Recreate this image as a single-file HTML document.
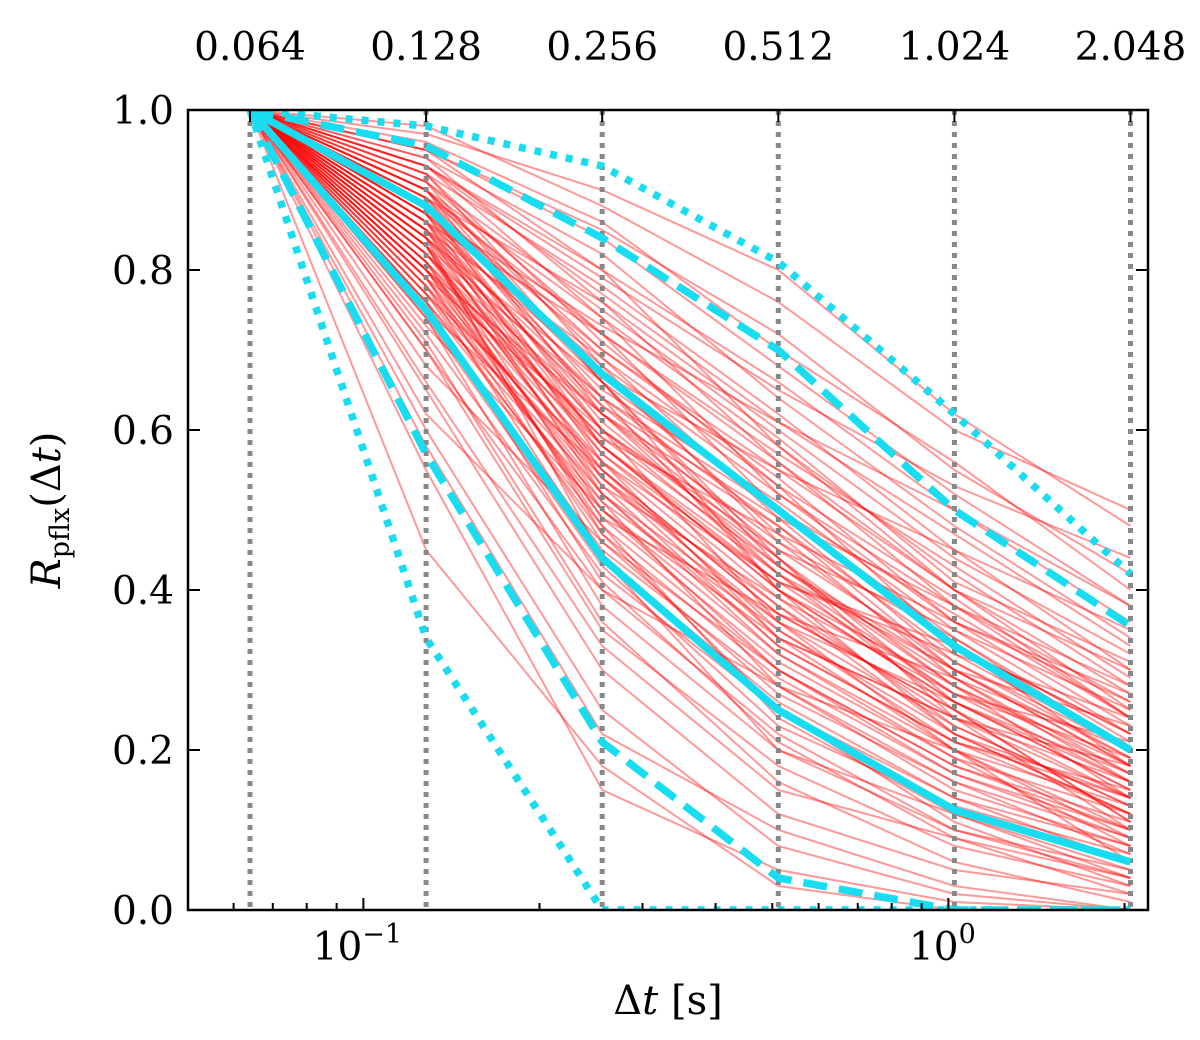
<!DOCTYPE html>
<html><head><meta charset="utf-8"><style>
html,body{margin:0;padding:0;background:#fff;}
svg text{font-family:"DejaVu Serif","Liberation Serif",serif;fill:#000;}
</style></head><body>
<svg id="chart" width="1200" height="1035" viewBox="0 0 1200 1035" xmlns="http://www.w3.org/2000/svg">
<defs><clipPath id="clip"><rect x="188" y="110" width="960" height="800"/></clipPath></defs>
<g id="red" clip-path="url(#clip)"></g>
<g id="grid"></g>
<g id="cyan" clip-path="url(#clip)"></g>
<rect x="188" y="110" width="960" height="800" fill="none" stroke="#000" stroke-width="2.5"/>
<g id="axes"></g>
<text x="668" y="1014" font-size="40" text-anchor="middle">Δ<tspan font-style="italic">t</tspan> [s]</text>
<text transform="translate(60,510) rotate(-90)" font-size="40" text-anchor="middle"><tspan font-style="italic">R</tspan><tspan font-size="27" dy="9">pflx</tspan><tspan dy="-9">(Δ</tspan><tspan font-style="italic">t</tspan>)</text>
</svg>
<script>
const lags = [0.064,0.128,0.256,0.512,1.024,2.048];
const topLabels = ["0.064","0.128","0.256","0.512","1.024","2.048"];
const yTicks = [0,0.2,0.4,0.6,0.8,1.0];
const yTickLabels = ["0.0","0.2","0.4","0.6","0.8","1.0"];
const solidUpper = [1.0,0.88,0.67,0.50,0.33,0.20];
const solidLower = [1.0,0.75,0.44,0.25,0.125,0.06];
const dashedUpper = [1.0,0.955,0.84,0.70,0.50,0.355];
const dashedLower = [1.0,0.57,0.21,0.04,0.0,0.0];
const dottedUpper = [1.0,0.98,0.93,0.81,0.62,0.42];
const dottedLower = [1.0,0.34,0.0,0.0,0.0,0.0];
const samples = [
[0.95,0.85,0.72,0.55,0.42],[0.90,0.70,0.55,0.40,0.25],[0.85,0.60,0.42,0.30,0.18],[0.80,0.55,0.35,0.22,0.12],
[0.75,0.45,0.28,0.15,0.08],[0.70,0.40,0.22,0.10,0.05],[0.88,0.66,0.50,0.33,0.22],[0.92,0.78,0.62,0.45,0.30],
[0.83,0.58,0.40,0.26,0.16],[0.78,0.50,0.32,0.20,0.10],[0.65,0.30,0.12,0.05,0.02],[0.60,0.25,0.08,0.02,0.00],
[0.86,0.62,0.46,0.34,0.20],[0.97,0.90,0.80,0.62,0.48],[0.93,0.80,0.66,0.50,0.36],[0.87,0.68,0.52,0.38,0.26],
[0.82,0.54,0.38,0.24,0.14],[0.76,0.48,0.30,0.18,0.11],[0.72,0.42,0.25,0.14,0.06],[0.90,0.74,0.58,0.42,0.28],
[0.84,0.60,0.44,0.28,0.17],[0.80,0.52,0.36,0.23,0.13],[0.89,0.64,0.48,0.30,0.19],[0.94,0.76,0.56,0.38,0.24],
[0.81,0.56,0.34,0.20,0.09],[0.85,0.64,0.40,0.26,0.15],[0.91,0.72,0.50,0.34,0.21],[0.79,0.46,0.27,0.16,0.07],
[0.74,0.38,0.20,0.12,0.04],[0.88,0.70,0.54,0.36,0.23],[0.96,0.86,0.70,0.56,0.40],[0.83,0.50,0.30,0.18,0.10],
[0.77,0.52,0.33,0.21,0.12],[0.86,0.58,0.42,0.27,0.16],[0.92,0.68,0.46,0.30,0.18],[0.70,0.35,0.18,0.08,0.03],
[0.55,0.15,0.05,0.01,0.00],[0.45,0.18,0.03,0.00,0.00],[0.98,0.88,0.76,0.60,0.50],[0.89,0.76,0.60,0.44,0.32],
[0.82,0.62,0.48,0.32,0.20],[0.87,0.56,0.38,0.22,0.14],[0.84,0.66,0.44,0.24,0.10],[0.80,0.58,0.40,0.28,0.18],
[0.93,0.74,0.52,0.36,0.26],[0.78,0.44,0.26,0.14,0.08],[0.90,0.62,0.44,0.26,0.15],[0.85,0.52,0.32,0.19,0.12],
[0.75,0.55,0.37,0.25,0.14],[0.68,0.46,0.30,0.17,0.09],[0.94,0.82,0.64,0.48,0.34],[0.88,0.60,0.36,0.20,0.06],
[0.81,0.48,0.24,0.12,0.05],[0.86,0.72,0.56,0.40,0.30],[0.91,0.66,0.40,0.22,0.12],[0.79,0.60,0.45,0.31,0.19],
[0.73,0.50,0.34,0.24,0.16],[0.95,0.80,0.58,0.40,0.27],[0.84,0.44,0.20,0.10,0.04],[0.62,0.40,0.28,0.20,0.13],
[0.83,0.64,0.50,0.37,0.24],[0.87,0.61,0.43,0.29,0.17],[0.79,0.53,0.39,0.27,0.21],[0.90,0.69,0.49,0.31,0.20],
[0.82,0.57,0.41,0.33,0.22],[0.76,0.51,0.35,0.21,0.15],[0.88,0.63,0.45,0.35,0.25],[0.84,0.55,0.37,0.25,0.11],
[0.92,0.71,0.53,0.39,0.24],[0.80,0.49,0.31,0.19,0.08],[0.86,0.67,0.47,0.29,0.16],[0.81,0.59,0.43,0.30,0.23],
[0.89,0.72,0.57,0.43,0.29],[0.77,0.47,0.29,0.17,0.10],[0.85,0.57,0.39,0.23,0.13],[0.93,0.77,0.61,0.47,0.33],
[0.78,0.54,0.36,0.26,0.17],[0.83,0.53,0.33,0.21,0.14],[0.87,0.65,0.51,0.35,0.22],[0.91,0.75,0.59,0.41,0.31],
[0.74,0.43,0.23,0.13,0.07],[0.82,0.59,0.47,0.36,0.27],[0.86,0.54,0.34,0.24,0.18],[0.80,0.62,0.42,0.25,0.11],
[0.95,0.84,0.68,0.52,0.38],[0.71,0.36,0.16,0.06,0.01],[0.88,0.58,0.41,0.27,0.19],[0.84,0.63,0.49,0.38,0.28],
[0.79,0.49,0.37,0.29,0.20],[0.90,0.66,0.43,0.28,0.14],[0.66,0.33,0.15,0.09,0.04],[0.85,0.69,0.53,0.33,0.18],
[0.81,0.51,0.28,0.16,0.09],[0.93,0.79,0.65,0.53,0.44],[0.77,0.56,0.41,0.32,0.24],[0.58,0.22,0.10,0.03,0.00],
[0.89,0.67,0.55,0.45,0.35],[0.83,0.47,0.25,0.11,0.03],[0.87,0.73,0.61,0.50,0.38],[0.76,0.41,0.21,0.09,0.02]
];
const NS="http://www.w3.org/2000/svg";
const X0=188,X1=1148,Y0=110,Y1=910;
const pxPerDec=585, refLag=0.064, refX=250;
function xs(v){return refX+Math.log10(v/refLag)*pxPerDec;}
function ys(v){return Y1-(v)*(Y1-Y0);}
function mk(tag,attrs,parent){const e=document.createElementNS(NS,tag);for(const k in attrs)e.setAttribute(k,attrs[k]);parent.appendChild(e);return e;}
function pts(vals){return vals.map((v,i)=>xs(lags[i]).toFixed(1)+","+ys(v).toFixed(1)).join(" ");}
const red=document.getElementById('red');
samples.forEach(s=>{
  const p=mk('polyline',{points:pts([1.0].concat(s)),fill:'none',stroke:'#ff0000','stroke-opacity':'0.4','stroke-width':'2'},red);
  
  
});
const grid=document.getElementById('grid');
lags.forEach(l=>{
  const g=mk('line',{x1:xs(l),x2:xs(l),y1:Y0,y2:Y1,stroke:'#888','stroke-width':'5','stroke-dasharray':'5,6'},grid);
  
  
});
const cyan=document.getElementById('cyan');
[[solidUpper,'','percentile-solid-upper'],[solidLower,'','percentile-solid-lower'],
 [dashedUpper,'24,12','percentile-dashed-upper'],[dashedLower,'24,12','percentile-dashed-lower'],
 [dottedUpper,'7,9','percentile-dotted-upper'],[dottedLower,'7,9','percentile-dotted-lower']].forEach(([d,dash,name])=>{
  const a={points:pts(d),fill:'none',stroke:'#18dcf0','stroke-width':'7.5','stroke-linejoin':'round'};
  if(dash)a['stroke-dasharray']=dash;
  const p=mk('polyline',a,cyan);
  
  
});
const axes=document.getElementById('axes');
yTicks.forEach((t,i)=>{
  const y=ys(t);
  mk('line',{x1:X0,x2:X0+12,y1:y,y2:y,stroke:'#000','stroke-width':'2'},axes);
  mk('line',{x1:X1-12,x2:X1,y1:y,y2:y,stroke:'#000','stroke-width':'2'},axes);
  const tx=mk('text',{x:174,y:y+14,'font-size':'39','text-anchor':'end'},axes);
  tx.textContent=yTickLabels[i];
  
  
});
lags.forEach((l,i)=>{
  const x=xs(l);
  mk('line',{x1:x,x2:x,y1:Y0,y2:Y0+12,stroke:'#000','stroke-width':'2'},axes);
  const tx=mk('text',{x:x,y:60,'font-size':'39','text-anchor':'middle'},axes);
  tx.textContent=topLabels[i];
  
  
});
[0.06,0.07,0.08,0.09,0.1,0.2,0.3,0.4,0.5,0.6,0.7,0.8,0.9,1,2].forEach(v=>{
  const x=xs(v); const major=(v===0.1||v===1);
  mk('line',{x1:x,x2:x,y1:Y1,y2:Y1-(major?12:7),stroke:'#000','stroke-width':'2'},axes);
});
[[0.1,'−1'],[1,'0']].forEach(([v,e])=>{
  const t=mk('text',{x:xs(v)-6,y:960,'font-size':'39','text-anchor':'middle'},axes);
  t.innerHTML='10<tspan font-size="27" dy="-17">'+e+'</tspan>';
  
  
});
</script>
</body></html>
